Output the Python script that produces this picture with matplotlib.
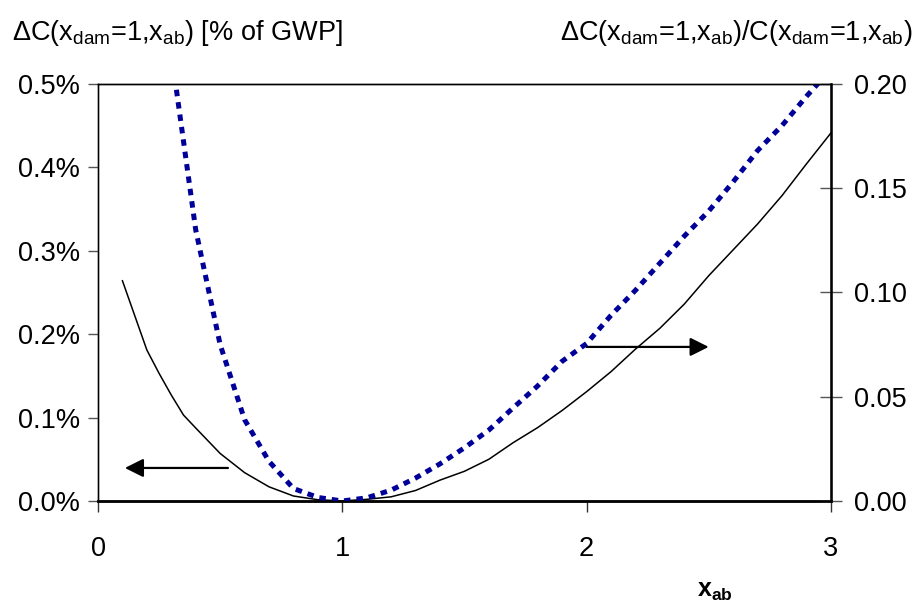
import numpy as np
import matplotlib.pyplot as plt

plt.rcParams['font.family'] = ['Liberation Sans', 'DejaVu Sans']
plt.rcParams['mathtext.fontset'] = 'custom'
plt.rcParams['mathtext.rm'] = 'Liberation Sans'
plt.rcParams['mathtext.it'] = 'Liberation Sans'
plt.rcParams['mathtext.bf'] = 'Liberation Sans:bold'
plt.rcParams['mathtext.default'] = 'regular'

# absolute cost difference, % of GWP (left axis)
x_abs = [0.1, 0.2, 0.25, 0.3, 0.35, 0.4, 0.5, 0.6, 0.7, 0.8, 0.9, 1.0,
         1.1, 1.2, 1.3, 1.4, 1.5, 1.6, 1.7, 1.8, 1.9, 2.0, 2.1, 2.2,
         2.3, 2.4, 2.5, 2.6, 2.7, 2.8, 2.9, 3.0]
dc_abs = [0.264, 0.181, 0.153, 0.127, 0.103, 0.0875, 0.057, 0.034, 0.017,
          0.006, 0.0015, 0.0, 0.002, 0.005, 0.0126, 0.025, 0.0356, 0.050,
          0.070, 0.088, 0.1085, 0.131, 0.155, 0.182, 0.207, 0.236, 0.270,
          0.301, 0.332, 0.366, 0.404, 0.441]

# relative cost difference (right axis)
x_rel = [0.3, 0.4, 0.5, 0.6, 0.7, 0.8, 0.9, 1.0, 1.1, 1.2, 1.3, 1.4, 1.5,
         1.6, 1.7, 1.8, 1.9, 2.0, 2.1, 2.2, 2.3, 2.4, 2.5, 2.6, 2.7, 2.8,
         2.9, 3.0]
dc_rel = [0.215, 0.13, 0.075, 0.039, 0.019, 0.006, 0.0017, 0.0, 0.0015,
          0.0052, 0.011, 0.0178, 0.0255, 0.034, 0.0447, 0.0552, 0.067,
          0.0755, 0.089, 0.101, 0.114, 0.127, 0.139, 0.153, 0.168, 0.18,
          0.194, 0.207]

left_ticks = [0.0, 0.1, 0.2, 0.3, 0.4, 0.5]
right_ticks = [0.0, 0.05, 0.10, 0.15, 0.20]
x_ticks = [0, 1, 2, 3]

fig = plt.figure(figsize=(9.16, 6.08), dpi=100)
ax = fig.add_axes([0.107, 0.176, 0.800, 0.686])
ax2 = ax.twinx()

ax.plot(x_abs, dc_abs, color='black', lw=1.1)
ax2.plot(x_rel, dc_rel, color='#000099', lw=3.6,
         linestyle=(0, (1.3, 1.2)), dash_capstyle='butt')

ax.set_xlim(0, 3)
ax.set_ylim(0, 0.5)
ax2.set_ylim(0, 0.2)

ax.set_xticks(x_ticks)
ax.set_xticklabels([str(t) for t in x_ticks])
ax.set_yticks(left_ticks)
ax.set_yticklabels(['%.1f%%' % t for t in left_ticks])
ax2.set_yticks(right_ticks)
ax2.set_yticklabels(['%.2f' % t for t in right_ticks])

for a in (ax, ax2):
    for s in a.spines.values():
        s.set_color('black')
        s.set_linewidth(1.0)
ax.spines['left'].set_color('#444444')
ax.spines['bottom'].set_linewidth(2.0)
ax2.spines['right'].set_linewidth(1.8)

ax.tick_params(axis='y', direction='out', length=7, width=1, color='#555555',
               labelsize=19.5, pad=6)
ax.tick_params(axis='x', direction='out', length=8, width=1, color='#333333',
               labelsize=19.5, pad=17)
ax2.tick_params(axis='y', direction='inout', length=16, width=1, color='#555555',
                labelsize=19.5, pad=9)

# arrows pointing to the axis each curve belongs to
ax.annotate('', xy=(0.11, 0.0396), xytext=(0.532, 0.0396),
            arrowprops=dict(arrowstyle='-|>', color='black', lw=1.6,
                            mutation_scale=28, shrinkA=0, shrinkB=0))
ax.annotate('', xy=(2.50, 0.1847), xytext=(2.0, 0.1847),
            arrowprops=dict(arrowstyle='-|>', color='black', lw=1.6,
                            mutation_scale=28, shrinkA=0, shrinkB=0))

fig.text(0.013, 0.945, r'$\Delta$C(x$_{dam}$=1,x$_{ab}$) [% of GWP]',
         fontsize=19.5, ha='left', va='center')
fig.text(0.996, 0.945, r'$\Delta$C(x$_{dam}$=1,x$_{ab}$)/C(x$_{dam}$=1,x$_{ab}$)',
         fontsize=19.5, ha='right', va='center')
fig.text(0.780, 0.008, r'$\mathbf{x_{ab}}$', fontsize=18, ha='center',
         va='bottom')

fig.savefig('out.png', dpi=100)
